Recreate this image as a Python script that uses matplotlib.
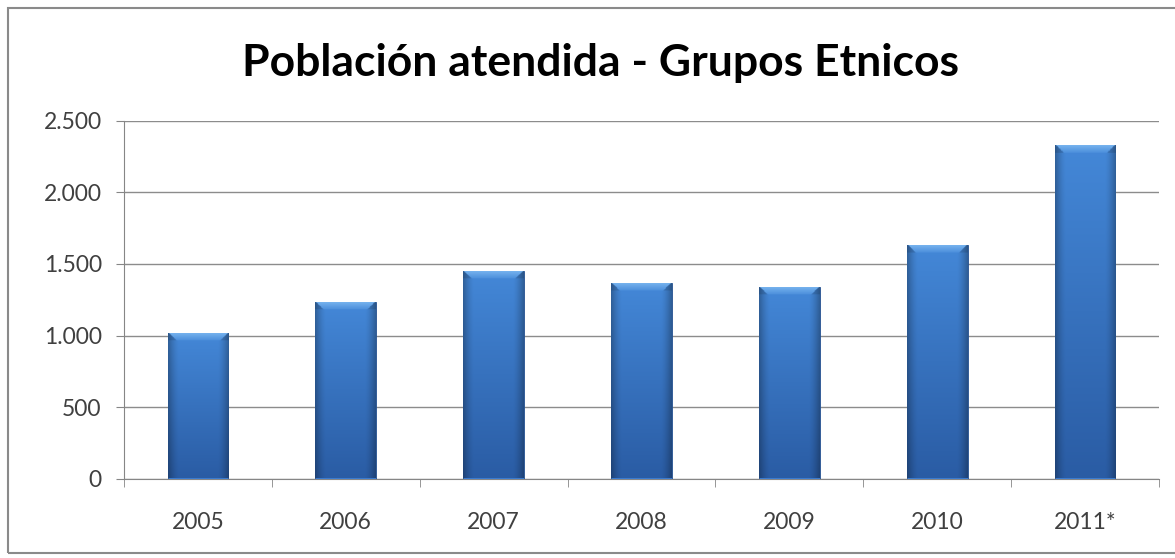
import numpy as np
import matplotlib.pyplot as plt
from matplotlib.patches import Rectangle
from matplotlib.colors import to_rgb
from matplotlib.ticker import FuncFormatter, FixedLocator

years = ['2005', '2006', '2007', '2008', '2009', '2010', '2011*']
poblacion = [1020, 1235, 1448, 1365, 1338, 1635, 2335]

title = 'Población atendida - Grupos Etnicos'

fig = plt.figure(figsize=(11.75, 5.58), dpi=100)
ax = fig.add_axes([124 / 1175, 79.5 / 558, 1035 / 1175, 357.5 / 558])

x = np.arange(len(years))
bw = 0.41
bars = ax.bar(x, poblacion, width=bw, color='#3a7bd0', zorder=3)

ax.set_xlim(-0.5, len(years) - 0.5)
ax.set_ylim(0, 2500)

# gradient / bevel look like excel 2007
top_c = np.array(to_rgb('#4488d8'))
bot_c = np.array(to_rgb('#2a5ca4'))
bev_top = np.array(to_rgb('#7ab6f0'))
bev_bot = np.array(to_rgb('#4d90dc'))
bev_h = 55.0
bev_w = 0.055
for b in bars:
    x0 = b.get_x()
    w = b.get_width()
    h = b.get_height()
    ny, nx = 300, 80
    xs = np.linspace(0, w, nx)
    ys = np.linspace(h, 0, ny)
    X, Y = np.meshgrid(xs, ys)
    t = Y / h
    img = bot_c + (top_c - bot_c) * t[..., None]
    d_edge = np.minimum(X, w - X)
    shade = 1 - 0.28 * np.clip(1 - d_edge / (w * 0.18), 0, 1) ** 1.5
    img = img * shade[..., None]
    depth = h - Y
    in_bev = (depth < bev_h) & (d_edge * (bev_h / bev_w) > depth)
    s = (depth / bev_h)[..., None]
    bev = bev_top + (bev_bot - bev_top) * s
    img = np.where(in_bev[..., None], bev, img)
    side = (depth < bev_h) & ~in_bev
    img = np.where(side[..., None], img * 0.88, img)
    im = ax.imshow(np.clip(img, 0, 1), extent=(x0, x0 + w, 0, h), aspect='auto',
                   zorder=4, interpolation='bilinear')
    im.set_clip_path(b)
    b.set_edgecolor('#244f8c')
    b.set_linewidth(0.6)

ax.set_xticks(x)
ax.set_xticklabels(years)
ax.xaxis.set_minor_locator(FixedLocator(np.arange(-0.5, len(years), 1.0)))
ax.tick_params(axis='x', which='major', length=0, pad=24, labelsize=16.5, labelcolor='#404040')
ax.tick_params(axis='x', which='minor', length=6, color='#868686', direction='out')
ax.set_yticks(np.arange(0, 2501, 500))
ax.yaxis.set_major_formatter(FuncFormatter(lambda v, p: f'{int(v):,}'.replace(',', '.')))
ax.tick_params(axis='y', length=6, color='#868686', pad=10, labelsize=16.5, labelcolor='#404040')
for lab in ax.get_xticklabels() + ax.get_yticklabels():
    lab.set_fontfamily('Lato')

ax.grid(axis='y', color='#8c8c8c', linewidth=1, zorder=0)
ax.set_axisbelow(True)
for sp in ['top', 'right']:
    ax.spines[sp].set_visible(False)
ax.spines['left'].set_color('#868686')
ax.spines['bottom'].set_color('#868686')

fig.text(601 / 1175, 1 - 63 / 558, title, ha='center', va='center',
         fontsize=32, fontweight='bold', family='Lato', color='black')

# outer chart frame
fig.patches.append(Rectangle((8 / 1175, 5 / 558), 1.1, 545 / 558, transform=fig.transFigure,
                             fill=False, edgecolor='#8a8a8a', linewidth=1.5))

fig.savefig('out.png', dpi=100)
